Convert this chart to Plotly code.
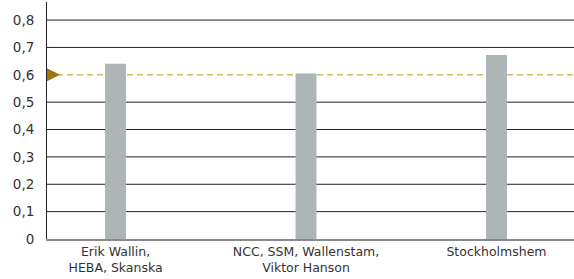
import plotly.graph_objects as go

categories = ["Erik Wallin,<br>HEBA, Skanska", "NCC, SSM, Wallenstam,<br>Viktor Hanson", "Stockholmshem"]
values = [0.64, 0.605, 0.672]
reference_value = 0.6
y_ticks = [0, 0.1, 0.2, 0.3, 0.4, 0.5, 0.6, 0.7, 0.8]
y_ticklabels = ["0", "0,1", "0,2", "0,3", "0,4", "0,5", "0,6", "0,7", "0,8"]

xpos = list(range(len(categories)))

fig = go.Figure()
fig.add_trace(go.Bar(x=xpos, y=values, width=0.11, marker=dict(color="#adb5b6", line=dict(width=0)),
                     hoverinfo="skip"))

# grid lines (the reference line replaces the one at its own level)
for v in y_ticks[1:]:
    if abs(v - reference_value) > 1e-9:
        fig.add_shape(type="line", xref="paper", yref="y", x0=0, x1=1, y0=v, y1=v,
                      line=dict(color="#222222", width=1), layer="below")
fig.add_shape(type="line", xref="paper", yref="y", x0=0, x1=1, y0=reference_value, y1=reference_value,
              line=dict(color="#cfbb62", width=1.6, dash="6px,4px"), layer="below")
fig.add_shape(type="path", xref="paper", yref="y", xsizemode="pixel", ysizemode="pixel",
              xanchor=0, yanchor=reference_value,
              path="M 0,6.5 L 13,0 L 0,-6.5 Z",
              fillcolor="#9a7a10", line=dict(width=0), layer="above")

fig.update_layout(
    width=574, height=279,
    margin=dict(l=47, r=0, t=2, b=40, autoexpand=False),
    paper_bgcolor="white", plot_bgcolor="white",
    showlegend=False,
    font=dict(family="DejaVu Sans, sans-serif", size=12, color="#333333"),
    xaxis=dict(range=[-0.36, 2.407], tickvals=xpos, ticktext=categories, showgrid=False,
               zeroline=False, showline=True, linecolor="#8a8a8a", linewidth=2,
               ticks="", tickfont=dict(size=12.5, color="#333333"), fixedrange=True, automargin=False),
    yaxis=dict(range=[0, 0.866], tickvals=y_ticks, ticktext=y_ticklabels, showgrid=False,
               zeroline=False, showline=True,
               linecolor="#222222", linewidth=1, ticks="", ticklabelstandoff=9,
               tickfont=dict(size=13.5, color="#333333"), fixedrange=True, automargin=False),
)

fig.write_html("out.html", config={"displayModeBar": False},
               post_script="document.body.style.margin='0';")
